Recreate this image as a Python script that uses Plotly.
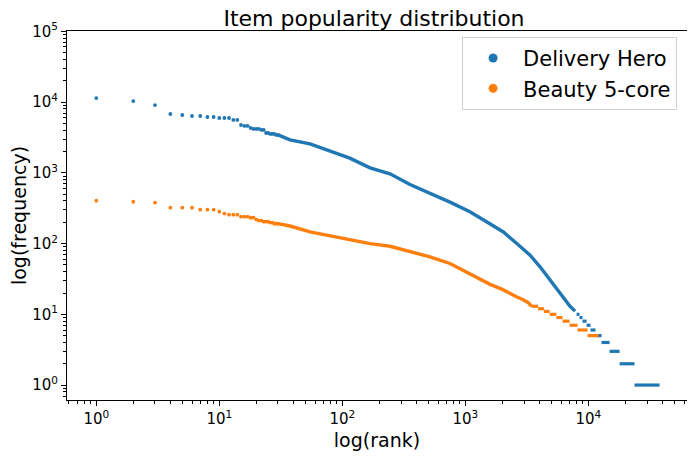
import plotly.graph_objects as go

# values (rank vs. number of interactions per item)

# top of the ranking, one point per item
head_rank = [1, 2, 3, 4, 5, 6, 7, 8, 9, 10, 11, 12, 13, 14, 15,
             16, 17, 18, 19, 20, 21, 22, 23, 24, 25, 26, 27, 28, 29, 30]
dh_head_freq = [11370, 10320, 9070, 6780, 6560, 6350, 6350, 6150, 6150, 5950,
                5950, 5950, 5580, 5580, 4740, 4590, 4590, 4300, 4170, 4170,
                4170, 4030, 4030, 3650, 3650, 3540, 3540, 3540, 3430, 3430]
bt_head_freq = [403, 390, 378, 321, 321, 321, 301, 301, 301, 282,
                265, 256, 256, 256, 240, 240, 240, 232, 232, 218,
                211, 211, 204, 204, 204, 198, 198, 191, 191, 191]

# dense middle part (too many items to read one by one)
dh_mid_rank = [30, 37.6, 54.6, 79.4, 115, 168, 244, 355, 516, 750, 1090, 1590,
               2040, 2620, 3360, 4050, 4880, 5360, 5890, 6460, 7100, 7800]
dh_mid_freq = [3430, 2920, 2560, 2010, 1610, 1175, 968, 684, 516, 385, 282, 191,
               146, 100, 68.5, 46.9, 30.4, 24.5, 19.8, 15.9, 13.0, 11.1]
bt_mid_rank = [30, 37.6, 54.6, 79.4, 115, 168, 244, 355, 516, 750, 1092, 1590,
               2000, 2230, 2600, 2900, 3250, 3440]
bt_mid_freq = [191, 177, 146, 128, 114, 100, 91.6, 76.2, 64.7, 52.3, 37, 26.5,
               22.5, 20.2, 17.7, 16.3, 14.6, 13]

# tail: many items share the same small frequency -> flat runs of ranks
dh_tail_freq = [10, 9, 8, 7, 6, 5, 4, 3, 2, 1]
dh_tail_start = [8020, 8480, 8970, 9670, 10420, 11440, 12805, 14875, 17940, 23740]
dh_tail_end = [8480, 8970, 9670, 10420, 11440, 12805, 14875, 17940, 23740, 37920]
bt_tail_freq = [13, 12, 11, 10, 9, 8, 7, 6, 5]
bt_tail_start = [3440, 3900, 4350, 4850, 5500, 6170, 7040, 8170, 9850]
bt_tail_end = [3900, 4350, 4850, 5500, 6170, 7040, 8170, 9850, 12100]

x_tickvals = [1, 10, 100, 1000, 10000]
x_ticktext = ["10<sup>0</sup>", "10<sup>1</sup>", "10<sup>2</sup>", "10<sup>3</sup>", "10<sup>4</sup>"]
y_tickvals = [1, 10, 100, 1000, 10000, 100000]
y_ticktext = ["10<sup>0</sup>", "10<sup>1</sup>", "10<sup>2</sup>", "10<sup>3</sup>",
              "10<sup>4</sup>", "10<sup>5</sup>"]

BLUE = "#1f77b4"
ORANGE = "#ff7f0e"
FONT = "DejaVu Sans"


def runs(freqs, starts, ends):
    xs, ys = [], []
    for f, a, b in zip(freqs, starts, ends):
        xs += [a, b, None]
        ys += [f, f, None]
    return xs, ys


fig = go.Figure()

for name, color, hf, mr, mf, tf, ts, te in [
        ("Delivery Hero", BLUE, dh_head_freq, dh_mid_rank, dh_mid_freq,
         dh_tail_freq, dh_tail_start, dh_tail_end),
        ("Beauty 5-core", ORANGE, bt_head_freq, bt_mid_rank, bt_mid_freq,
         bt_tail_freq, bt_tail_start, bt_tail_end)]:
    fig.add_trace(go.Scatter(x=head_rank, y=hf, mode="markers", legendgroup=name,
                             showlegend=False,
                             marker=dict(color=color, size=3.8, symbol="circle")))
    fig.add_trace(go.Scatter(x=mr, y=mf, mode="lines", legendgroup=name,
                             showlegend=False, line=dict(color=color, width=3.4)))
    tx, ty = runs(tf, ts, te)
    fig.add_trace(go.Scatter(x=tx, y=ty, mode="lines", legendgroup=name,
                             showlegend=False, line=dict(color=color, width=3.2)))
    # legend entry only
    fig.add_trace(go.Scatter(x=[None], y=[None], mode="markers", name=name,
                             legendgroup=name,
                             marker=dict(color=color, size=9)))

axis_common = dict(showline=True, mirror=True, linecolor="black", linewidth=1,
                   ticks="outside", ticklen=5, tickwidth=1, tickcolor="black",
                   showgrid=False, zeroline=False, automargin=False,
                   tickfont=dict(family=FONT, size=15, color="black"),
                   minor=dict(ticks="outside", ticklen=3, tickcolor="black",
                              dtick="D1", showgrid=False))

fig.update_xaxes(type="log", range=[-0.238, 4.802], tickvals=x_tickvals,
                 ticktext=x_ticktext,
                 title=dict(text="log(rank)", font=dict(family=FONT, size=19, color="black"),
                            standoff=6),
                 **axis_common)
fig.update_yaxes(type="log", range=[-0.211, 5.004], tickvals=y_tickvals,
                 ticktext=y_ticktext,
                 title=dict(text="log(frequency)", font=dict(family=FONT, size=19, color="black"),
                            standoff=8),
                 **axis_common)

# the page adds an 8px body margin, so the margins below are shifted for it
fig.update_layout(
    width=695, height=458,
    margin=dict(l=59, r=16, t=23, b=66),
    plot_bgcolor="white", paper_bgcolor="white",
    title=dict(text="Item popularity distribution", x=0.5266, xanchor="center",
               y=1.0, yanchor="top", pad=dict(t=3, b=0),
               font=dict(family=FONT, size=22, color="black")),
    legend=dict(x=0.984, y=0.984, xanchor="right", yanchor="top",
                bgcolor="white", bordercolor="#d0d0d0", borderwidth=1,
                font=dict(family=FONT, size=21, color="black"),
                itemsizing="trace", itemwidth=50, tracegroupgap=0),
    showlegend=True,
)

fig.write_html("out.html")
